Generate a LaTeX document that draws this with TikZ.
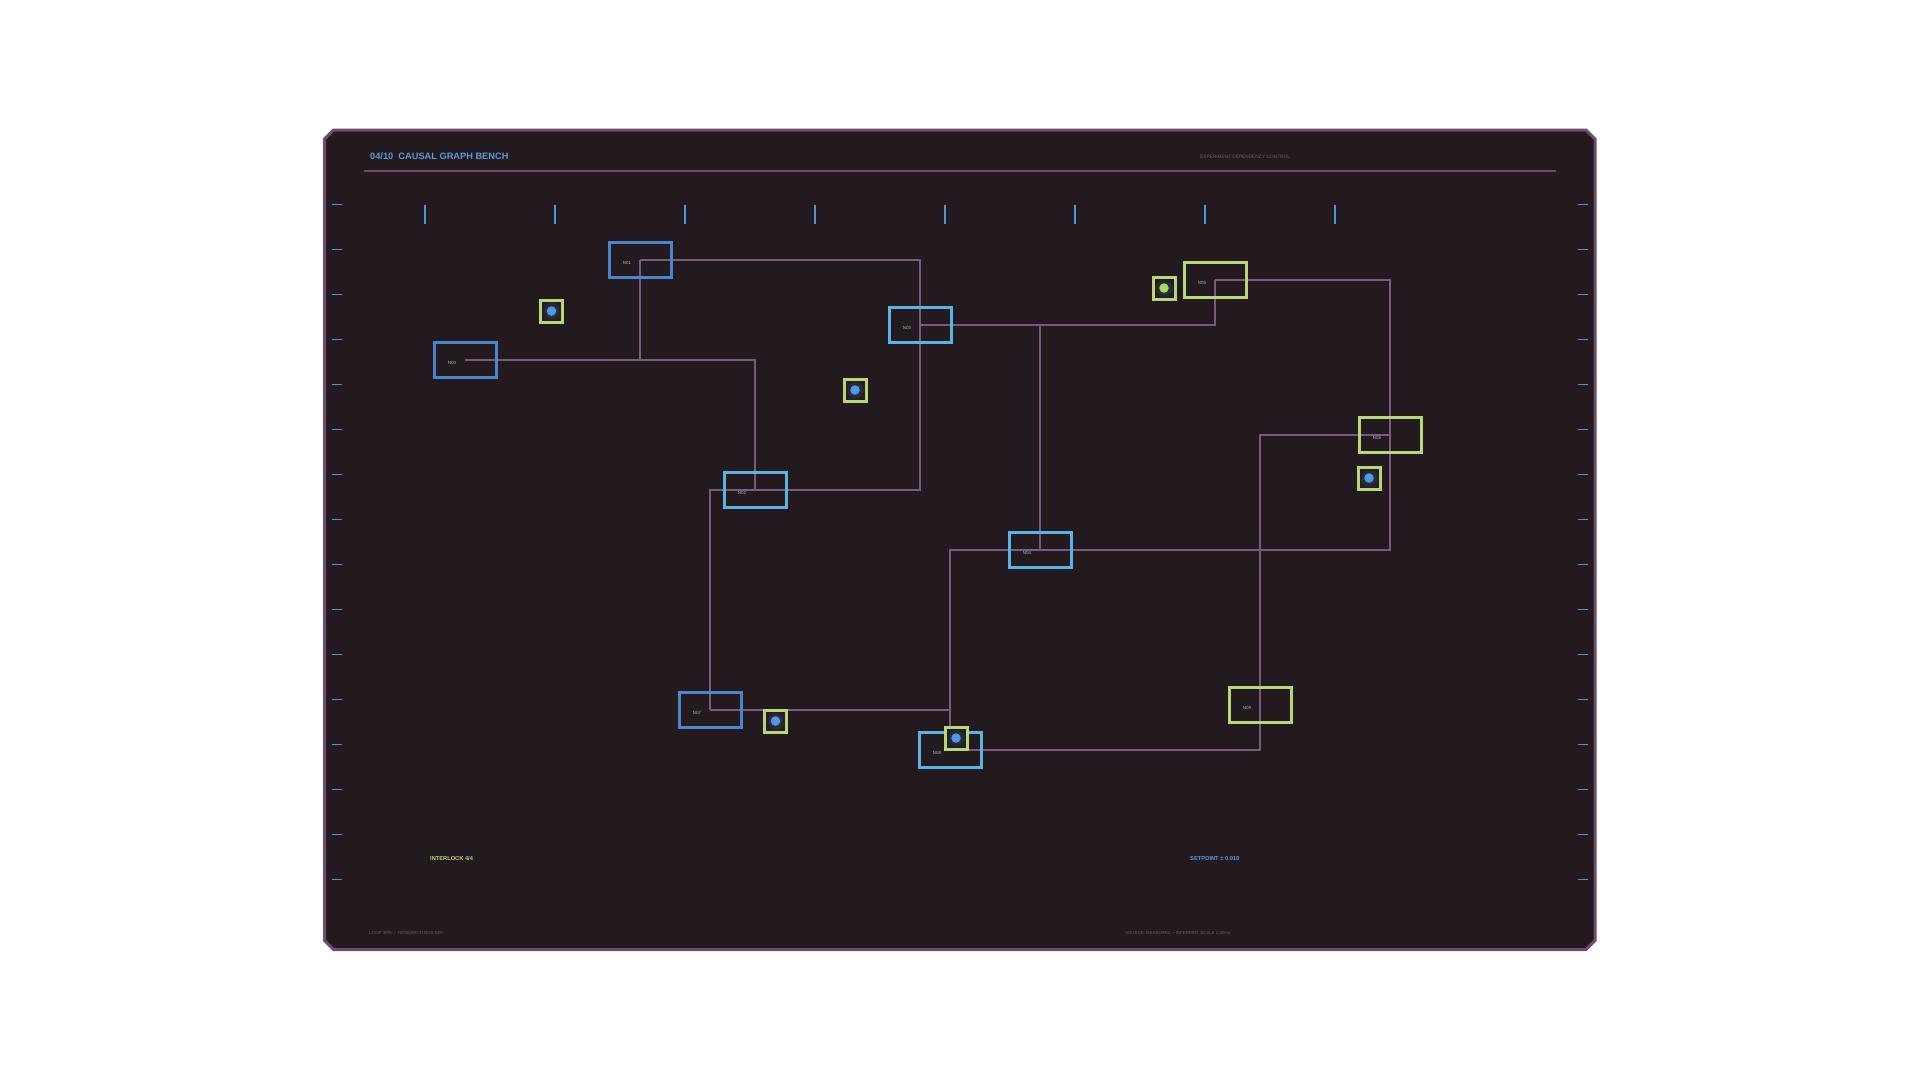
\documentclass[tikz,border=0pt]{standalone}
\usepackage{fontspec}
\setmainfont{Liberation Sans}
\usetikzlibrary{positioning}
\definecolor{panelbg}{HTML}{221A1E}
\definecolor{panelrim}{HTML}{6E4C72}
\definecolor{wirec}{HTML}{7A5A80}
\definecolor{blueN}{HTML}{4A86CC}
\definecolor{cyanN}{HTML}{58B4E2}
\definecolor{greenN}{HTML}{B6D678}
\definecolor{dotblue}{HTML}{4C9AE6}
\definecolor{dotgreen}{HTML}{A8D858}
\definecolor{titlec}{HTML}{5A9AD6}
\definecolor{greyt}{HTML}{6E5C6A}
\definecolor{tickc}{HTML}{4A96D6}
\definecolor{lblc}{HTML}{AEB6C6}
\definecolor{glowc}{HTML}{363C52}
\pgfdeclarelayer{back}
\pgfdeclarelayer{wires}
\pgfsetlayers{back,wires,main}
\tikzset{
  nbox/.style={rectangle, draw, line width=3pt, minimum width=62pt, minimum height=35pt, inner sep=0pt},
  lbl/.style={text=lblc, font=\fontsize{4.5}{5}\selectfont, inner sep=0pt},
  dotbox/.style={rectangle, draw=greenN, line width=3pt, minimum size=22pt, inner sep=0pt, inner color=glowc, outer color=panelbg},
  dotc/.style={circle, minimum size=9.5pt, inner sep=0pt},
  wire/.style={draw=wirec, line width=1.8pt},
  tickh/.style={draw=tickc, line width=1.7pt},
  small/.style={text=greyt, inner sep=0pt, anchor=base west},
}
\begin{document}
\begin{tikzpicture}[x=1pt,y=-1pt]
\useasboundingbox (0,0) rectangle (1920,1080);
\begin{pgfonlayer}{back}
\fill[white] (0,0) rectangle (1920,1080);
\draw[panelrim, fill=panelbg, line width=3pt, line join=miter]
  (333.5,130) -- (1586,130) -- (1595,139) -- (1595,940.5) -- (1586,949.5)
  -- (333.5,949.5) -- (324.5,940.5) -- (324.5,139) -- cycle;
\draw[panelrim, line width=2pt] (364,171) -- (1556,171);
\foreach \i in {0,...,15} {
  \draw[tickh] (332,204.5+45*\i) -- (342,204.5+45*\i);
  \draw[tickh] (1578,204.5+45*\i) -- (1588,204.5+45*\i);
}
\foreach \i in {0,...,7} {
  \draw[tickh] (425+130*\i,204.5) -- (425+130*\i,224);
}
\end{pgfonlayer}

% texts
\node[anchor=base west, inner sep=0pt, text=titlec, font=\fontsize{9.25}{11}\selectfont\bfseries] (title) at (370,159.5) {04/10\ \ CAUSAL GRAPH BENCH};
\node[small, font=\fontsize{4.75}{6}\selectfont] (sub) at (1200,158.8) {EXPERIMENT DEPENDENCY CONTROL};
\node[small, font=\fontsize{4.5}{6}\selectfont] (foot1) at (369,934) {LOOP 38\% \ /\ \ RESEARCH BUS 04A};
\node[small, font=\fontsize{4.35}{6}\selectfont] (foot2) at (1125,934) {SOURCE: MEASURED + INFERRED \ SCALE 1:50ms};
\node[anchor=base west, inner sep=0pt, text=greenN, font=\fontsize{5.7}{7}\selectfont\bfseries] (ilock) at (430,860) {INTERLOCK 4/4};
\node[anchor=base west, inner sep=0pt, text=titlec, font=\fontsize{5.7}{7}\selectfont\bfseries] (setp) at (1190,860) {SETPOINT ± 0.018};

% nodes
\node[nbox, draw=blueN] (N00) at (465,360) {};
\node[nbox, draw=blueN] (N01) at (640,260) {};
\node[nbox, draw=cyanN] (N02) at (755,490) {};
\node[nbox, draw=cyanN] (N03) at (920,325) {};
\node[nbox, draw=cyanN] (N04) at (1040,550) {};
\node[nbox, draw=greenN] (N05) at (1215,280) {};
\node[nbox, draw=greenN] (N06) at (1390,435) {};
\node[nbox, draw=blueN] (N07) at (710,710) {};
\node[nbox, draw=cyanN] (N08) at (950,750) {};
\node[nbox, draw=greenN] (N09) at (1260,705) {};
\foreach \n in {N00,N01,N02,N03,N04,N05,N06,N07,N08,N09} {
  \node[lbl] (\n t) at ([shift={(-13,3)}]\n.center) {\n};
}

% wires
\begin{pgfonlayer}{wires}
\draw[wire] (N00.center) -| (N01.center);
\draw[wire] (N00.center) -| (N02.center);
\draw[wire] (N01.center) -| (N03.center);
\draw[wire] (N03.center) |- (N02.center);
\draw[wire] (N03.center) -| (N05.center);
\draw[wire] (N03.center) -| (N04.center);
\draw[wire] (N05.center) -| (N06.center);
\draw[wire] (N06.center) |- (N04.center);
\draw[wire] (N04.center) -| (N08.center);
\draw[wire] (N06.center) -| (N09.center);
\draw[wire] (N09.center) |- (N08.center);
\draw[wire] (N02.center) -| (N07.center);
\draw[wire] (N07.center) -| (N08.center);
\end{pgfonlayer}

% dot boxes
\node[dotbox] (D1) at (551.5,311) {};
\node[dotc, fill=dotblue] (D1c) at (D1.center) {};
\node[dotbox] (D2) at (855,390) {};
\node[dotc, fill=dotblue] (D2c) at (D2.center) {};
\node[dotbox] (D3) at (1164,288) {};
\node[dotc, fill=dotgreen] (D3c) at (D3.center) {};
\node[dotbox] (D4) at (1369,478) {};
\node[dotc, fill=dotblue] (D4c) at (D4.center) {};
\node[dotbox] (D5) at (775.5,721) {};
\node[dotc, fill=dotblue] (D5c) at (D5.center) {};
\node[dotbox] (D6) at (956,738) {};
\node[dotc, fill=dotblue] (D6c) at (D6.center) {};
\end{tikzpicture}
\end{document}
